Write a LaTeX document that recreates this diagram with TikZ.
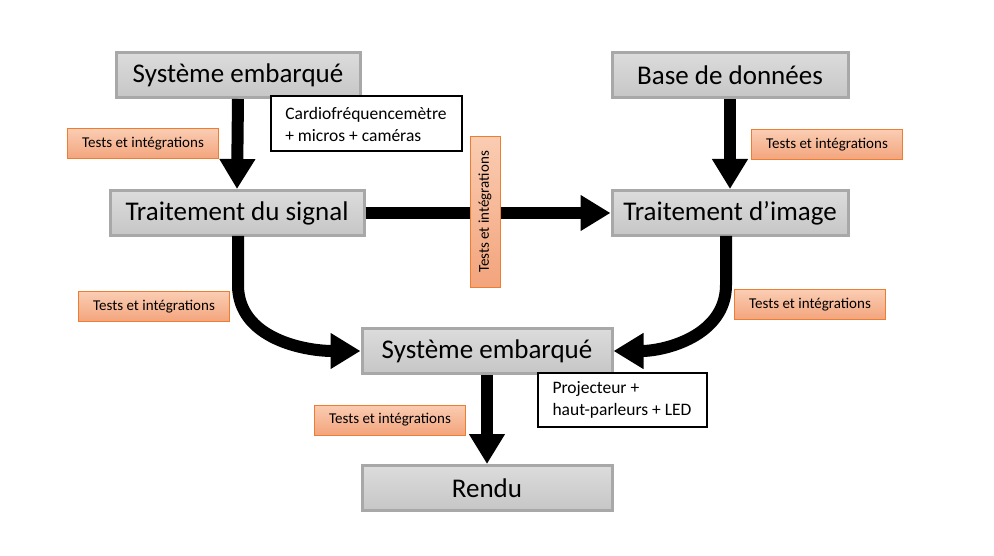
\documentclass[tikz,border=0pt]{standalone}
\usepackage{fontspec}
\setmainfont{Carlito}
\usetikzlibrary{arrows.meta}
\definecolor{boxtop}{RGB}{220,220,220}
\definecolor{boxbot}{RGB}{198,198,198}
\definecolor{boxline}{RGB}{168,168,168}
\definecolor{labtop}{RGB}{250,204,178}
\definecolor{labbot}{RGB}{243,164,124}
\definecolor{labline}{RGB}{237,125,49}
\tikzset{
  bloc/.style={draw=boxline,line width=3pt,top color=boxtop,bottom color=boxbot,
    minimum height=45pt,inner sep=0pt,font=\fontsize{27}{32}\selectfont},
  info/.style={draw=black,line width=2pt,fill=white,align=left,inner sep=0pt,
    font=\fontsize{17.5}{22}\selectfont},
  tests/.style={draw=labline,line width=1pt,top color=labtop,bottom color=labbot,
    minimum width=151pt,minimum height=30pt,inner sep=0pt,font=\fontsize{15}{18}\selectfont},
  fleche/.style={line width=12pt,-{Triangle[width=34pt,length=30pt]}}
}
\begin{document}
\begin{tikzpicture}[x=1pt,y=-1pt]
\useasboundingbox (0,0) rectangle (994,556);
% blocs
\node[bloc,minimum width=244pt] (sysA) at (238,75) {Système embarqué};
\node[bloc,minimum width=236pt] (base) at (730,75) {Base de données};
\node[bloc,minimum width=254pt] (tsig) at (237,213) {Traitement du signal};
\node[bloc,minimum width=236pt] (timg) at (730,213) {Traitement d’image};
\node[bloc,minimum width=250pt] (sysB) at (487,351) {Système embarqué};
\node[bloc,minimum width=250pt] (rendu) at (487,488) {Rendu};
% fleches
\draw[fleche] (sysA.south) -- (tsig.north);
\draw[fleche] (base.south) -- (timg.north);
\draw[fleche] (tsig.east) -- (timg.west);
\draw[fleche] (238,236) -- (238,285) to[out=-90,in=180] (sysB.west);
\draw[fleche] (726,236) -- (726,285) to[out=-90,in=0] (sysB.east);
\draw[fleche] (sysB.south) -- (rendu.north);
% materiel
\node[info,minimum width=191pt,minimum height=55pt] (cardio) at (366,124)
  {Cardiofréquencemètre\\+ micros + caméras};
\node[info,minimum width=169pt,minimum height=54pt] (proj) at (622,400)
  {Projecteur +\\haut-parleurs + LED\hspace{7pt}};
% tests
\node[tests] (tA) at (143,144) {Tests et intégrations};
\node[tests] (tB) at (827,145) {Tests et intégrations};
\node[tests,rotate=90] (tC) at (485,212) {Tests et intégrations};
\node[tests] (tD) at (154,307) {Tests et intégrations};
\node[tests] (tE) at (810,305) {Tests et intégrations};
\node[tests] (tF) at (390,420) {Tests et intégrations};
\end{tikzpicture}
\end{document}
